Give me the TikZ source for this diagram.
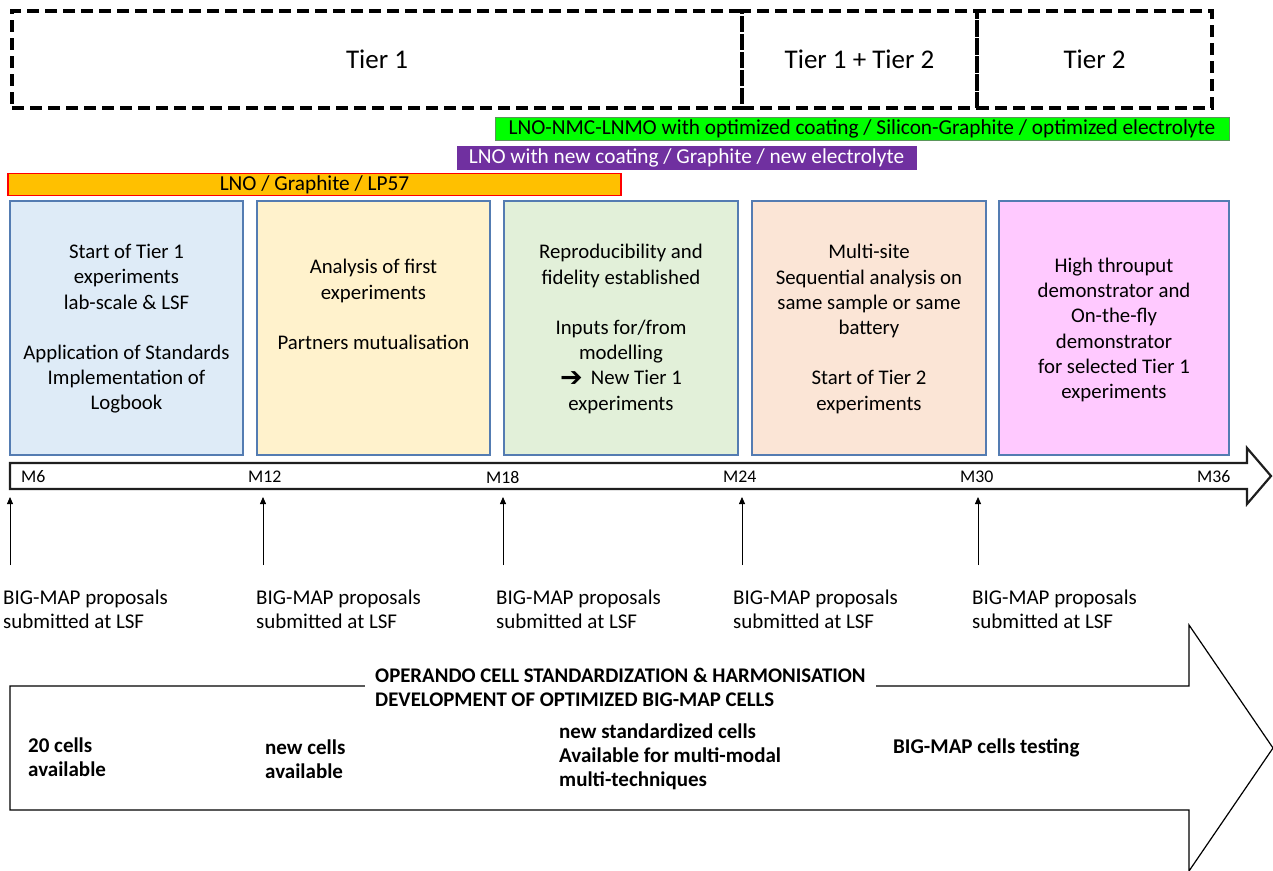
\documentclass[tikz,border=0pt]{standalone}
\usepackage{fontspec}
\setmainfont{Carlito}
\newfontfamily\dejavu{DejaVu Sans}
\usetikzlibrary{arrows.meta}
\definecolor{boxline}{RGB}{84,124,178}
\definecolor{fillA}{RGB}{222,235,247}
\definecolor{fillB}{RGB}{255,242,204}
\definecolor{fillC}{RGB}{226,240,217}
\definecolor{fillD}{RGB}{251,229,214}
\definecolor{fillE}{RGB}{255,201,255}
\definecolor{barOrange}{RGB}{255,192,0}
\definecolor{barPurple}{RGB}{112,48,160}
\definecolor{barGreen}{RGB}{0,255,0}
\begin{document}
\begin{tikzpicture}[x=1pt,y=-1pt,
  tierbox/.style={draw=black, line width=4pt, dash pattern=on 12pt off 6pt, inner sep=0pt,
    font=\fontsize{27}{32}\selectfont},
  bar/.style={inner sep=0pt, minimum height=23pt, font=\fontsize{21.3}{23}\selectfont},
  phasebox/.style={draw=boxline, line width=1.3pt, inner sep=0pt, minimum height=254pt},
  phasetext/.style={align=center, inner sep=0pt, font=\fontsize{20.8}{25.2}\selectfont},
  mlabel/.style={anchor=west, inner sep=0pt, font=\fontsize{17.8}{20}\selectfont},
  proptext/.style={anchor=north west, align=left, inner sep=0pt, font=\fontsize{21}{23.5}\selectfont},
  celltext/.style={anchor=west, align=left, inner sep=0pt, font=\bfseries\fontsize{21}{24}\selectfont},
  smallarrow/.style={-{Triangle[length=7pt,width=6pt]}, line width=0.8pt},
]
\useasboundingbox (0,0) rectangle (1273,870);
\fill[white] (0,0) rectangle (1273,870);

% tier boxes
\node[tierbox, minimum width=730pt, minimum height=97pt] (tier1) at (377,59.5) {\raisebox{-2pt}{Tier 1}};
\node[tierbox, minimum width=235pt, minimum height=97pt] (tier12) at (859.5,59.5) {\raisebox{-2pt}{Tier 1 + Tier 2}};
\node[tierbox, minimum width=235pt, minimum height=97pt] (tier2) at (1094.5,59.5) {\raisebox{-2pt}{Tier 2}};

% material bars
\node[bar, fill=barGreen, draw={rgb,255:red,90;green,150;blue,90}, line width=0.8pt, minimum width=734pt] (green) at (862,128.5)
  {LNO-NMC-LNMO with optimized coating / Silicon-Graphite / optimized electrolyte};
\node[bar, fill=barPurple, draw=barPurple, line width=0.8pt, minimum width=459pt, text=white] (purple) at (686.5,157.5)
  {LNO with new coating / Graphite / new electrolyte};
\node[bar, fill=barOrange, draw=red, line width=1.2pt, minimum width=613pt, minimum height=22pt] (orange) at (314.5,184.5)
  {LNO / Graphite / LP57};

% phase boxes
\node[phasebox, fill=fillA, minimum width=233pt] (b1) at (126.5,328) {};
\node[phasebox, fill=fillB, minimum width=233pt] (b2) at (373.5,328) {};
\node[phasebox, fill=fillC, minimum width=234pt] (b3) at (621,328) {};
\node[phasebox, fill=fillD, minimum width=234pt] (b4) at (869,328) {};
\node[phasebox, fill=fillE, minimum width=230pt] (b5) at (1114,328) {};

\node[phasetext] (t1) at (126.5,329) {Start of Tier 1\\experiments\\lab-scale \& LSF\\[25.2pt]Application of Standards\\Implementation of\\Logbook};
\node[phasetext] (t2) at (373.5,304.5) {Analysis of first\\experiments\\[25.2pt]Partners mutualisation};
\node[phasetext] (t3) at (621,329) {Reproducibility and\\fidelity established\\[25.2pt]Inputs for/from\\modelling\\\raisebox{-1.5pt}{\dejavu\bfseries\fontsize{27}{25}\selectfont ➔}\, New Tier 1\\experiments};
\node[phasetext] (t4) at (869,329) {Multi-site\\Sequential analysis on\\same sample or same\\battery\\[25.2pt]Start of Tier 2\\experiments};
\node[phasetext] (t5) at (1114,330) {High throuput\\demonstrator and\\On-the-fly\\demonstrator\\for selected Tier 1\\experiments};

% timeline arrow
\draw[line width=2.2pt, draw={rgb,255:red,30;green,30;blue,30}, fill=white, line join=miter]
  (10,463) -- (1247,463) -- (1247,448) -- (1271,476) -- (1247,504) -- (1247,489) -- (10,489) -- cycle;
\node[mlabel] (m6) at (21,477) {M6};
\node[mlabel] (m12) at (248,477) {M12};
\node[mlabel] (m18) at (486,477) {M18};
\node[mlabel] (m24) at (723,477) {M24};
\node[mlabel] (m30) at (960,477) {M30};
\node[mlabel] (m36) at (1197,477) {M36};

% proposal markers
\foreach \i/\x/\lx in {1/10/3, 2/263/256, 3/503/496, 4/742/733, 5/978/972}{
  \coordinate (top\i) at (\x,497);
  \coordinate (bot\i) at (\x,565);
  \draw[smallarrow] (bot\i) -- (top\i);
  \node[proptext] (p\i) at (\lx,590) {BIG-MAP proposals\\submitted at LSF};
}

% bottom big arrow
\draw[line width=1.2pt, fill=white, line join=miter]
  (10,686) -- (1189,686) -- (1189,625) -- (1273,748) -- (1189,871) -- (1189,810) -- (10,810) -- cycle;
\node[anchor=west, align=left, fill=white, inner xsep=10pt, inner ysep=1pt, font=\bfseries\fontsize{20.8}{24}\selectfont] (title) at (365,687)
  {OPERANDO CELL STANDARDIZATION \& HARMONISATION\\DEVELOPMENT OF OPTIMIZED BIG-MAP CELLS};
\node[celltext] (c1) at (28,757) {20 cells\\available};
\node[celltext] (c2) at (265,759) {new cells\\available};
\node[celltext] (c3) at (559,757) {new standardized cells\\Available for multi-modal\\multi-techniques};
\node[celltext] (c4) at (893,748) {BIG-MAP cells testing};
\end{tikzpicture}
\end{document}
